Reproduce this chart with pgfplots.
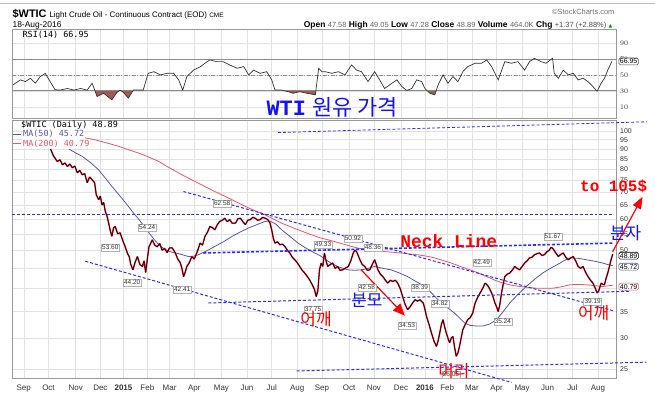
\documentclass[border=0pt]{standalone}
\usepackage{pgfplots}
\pgfplotsset{compat=1.18}
\usepackage{pgfplotstable}
\usetikzlibrary{arrows.meta}
\usepackage{fontspec}
\setmainfont{Liberation Sans}
\newfontfamily\mono{DejaVu Sans Mono}
\newfontfamily\cour{Liberation Mono}
\newfontfamily\cjk{Noto Sans CJK KR}
\newfontfamily\dejavu{DejaVu Sans}

\definecolor{anb}{RGB}{45,45,245}
\definecolor{txtblue}{RGB}{20,20,235}
\definecolor{anr}{RGB}{255,0,0}
\definecolor{ma50c}{RGB}{85,85,170}
\definecolor{ma200c}{RGB}{232,85,105}
\definecolor{pricered}{RGB}{238,20,45}
\definecolor{rsifill}{RGB}{160,92,82}
\definecolor{gridc}{RGB}{226,226,226}

% price close (x = days since 1 Sep 2014)
\pgfplotstableread{
d p
32.6 89.9
36 86.5
40.7 83.7
44 84.5
47 82.1
50 83
53 81.3
56 82.5
59 80.7
62 81.5
65 78.4
68 79.5
71 77.5
74 78
77 74
80 76.5
83 75.3
86 74
88 69
91 67
93 68.5
95 65
97 66
99 62.6
101 61
103 58.6
105 56
107 54.2
109 57
111 57.4
114 55
117 55.3
120 53
123 51.1
126 49
128 48.2
130 46
132.5 44.6
135 46.5
138 48.2
141 46
144 45.5
146 47
148 43.9
150 47.5
152 51
154 52
156 53.1
159 51.5
162 51
165 52
168 50
171 50.5
174 49.3
177 50.7
180 50.7
182 50
184 49.2
187 47.5
190 46.5
192 45
194 42.9
196 44
198 45.5
201 46.5
204 48.2
207 47.5
210 49.2
212 50.5
214 52.1
217 51.5
220 54.2
223 55.5
226 57.4
229 57
232 56.3
235 58
238 59.1
241 59.5
244 60.2
247 59
250 59.7
253 58.5
257 58.5
260 60
263 60.2
266 59
269 58
272 59.5
275 59.7
278 60.5
281 60.2
284 59.5
287 59.7
290 60.5
293 60.2
296 59.8
299 58.5
301 56.3
303 53.5
305 52.1
308 52.5
311 51.6
314 51.8
317 51.1
320 50
323 49.2
326 48
329 47.3
332 46.5
335 45.5
338 44.5
341 43.8
344 43
347 42.1
350 41
353 39.8
355 38.2
357 39.5
359 44.6
361 46.4
363 45.5
365 49.2
367 47
369 45.5
372 46
375 46.4
378 45
381 45.5
384 44.5
387 44.6
390 45
394 45.5
397 47
400 49.2
402 50
404 49.6
406 48.5
408 47.3
411 46
414 45.5
417 44.5
420 44.6
423 46
426 47.3
428 46
430 44.6
433 43.5
436 42.9
439 42
442 41.3
445 42
448 41.7
451 42
454 41.3
457 40
460 38.2
463 36.5
466 35.4
469 36
472 36.8
475 37.5
478 37.2
481 37.5
485 36.8
487 35.5
489 34
492 32.5
495 30.9
498 29.5
501 28.6
503 29.5
505 30.9
507 32.5
509 33.4
511 32
513 30.9
515 30
517 29.2
519 30
521 30.3
523 28.5
525 27
527 27.5
529 28.6
531 30
533 31.5
536 32.5
539 33.4
542 33.8
545 34.7
548 36.8
551 38
554 39
557 40
560 41.3
562 41
564 40.5
566 39.8
568 39
570 38
572 36.8
574 36
576 35
578 36.5
580 39
582 41
584 42.9
587 43.5
590 43.8
593 44.5
596 45.5
599 45
602 44.6
605 45.5
608 46.4
611 47
614 47.8
617 48
620 48.7
623 49
626 49.2
629 48.5
632 48.7
635 49.5
638 50
640 50.8
642 50.6
645 49.5
649 48.2
652 48.8
655 49.2
658 48
661 47.3
664 47.8
667 48.2
670 47
673 45.5
676 45
679 45.5
682 44
685 42.9
688 42
691 41.3
694 40
696 39
698 39.5
701 41.3
703 41
705 40.9
707 42.5
709 43.8
711 45.5
713 47.3
715 48.89
}\price

\pgfplotstableread{
d p
55 89.9
63 88
71 86.2
81 83.2
91 79.7
99 76
107 72.4
116 68.8
124 65.7
132 62.5
140 59.7
146 57.5
152 55.3
158 53.3
164 51.6
170 50.5
176 49.7
182 49.3
188 49.0
194 48.6
200 48.2
206 48.3
212 48.7
222 49.8
232 51.1
243 52.6
253 54.2
263 55.6
273 56.9
283 58.0
293 59.1
299 59.2
306 58.2
313 56.3
323 54.2
333 52.1
342 50.7
350 49.6
360 48.4
366 47.4
373 46.4
383 45.3
394 44.6
402 44.5
410 44.6
418 45.0
426 45.5
436 45.0
446 44.6
456 43.8
466 42.9
476 41.7
487 40.5
495 39.0
503 37.5
513 36.0
523 34.7
530 33.6
535 32.8
542 32.3
550 32.2
558 32.2
566 32.6
574 33.4
582 35.0
590 36.8
600 38.7
610 40.5
620 42.2
630 43.8
641 45.2
651 46.4
657 47.2
663 47.8
673 47.7
683 47.3
693 46.9
703 46.4
709 46.0
715 45.72
}\maF

\pgfplotstableread{
d p
59 97.7
70 96.4
87 94.9
100 93.3
116 91.3
128 89.5
140 87.8
152 85.8
164 83.7
174 81.3
183 79.4
192 77.5
202 75.6
212 73.8
222 72.0
232 70.3
243 68.6
253 67.0
263 65.4
273 63.9
283 62.6
293 61.4
303 59.9
313 58.5
323 57.4
333 56.3
347 54.9
360 53.7
368 53.2
377 52.6
388 51.8
398 51.1
408 50.5
418 50.0
428 49.8
438 49.6
448 49.4
458 49.2
468 48.9
478 48.7
489 48.3
499 47.8
509 47.1
519 46.4
530 45.5
542 44.6
552 43.8
562 42.9
572 42.0
582 41.3
592 40.8
602 40.5
612 40.3
622 40.1
632 40.1
642 40.1
652 40.4
663 40.9
673 41.0
683 40.9
693 40.7
703 40.5
715 40.79
}\maT

\pgfplotstableread{
d r
-13 37.5
-4 43.8
2 41.6
8 45.8
14 39.6
20 47.9
26 52
32 41.6
38 31.5
44 31
53 33
61 31
69 33
77 31
83 39.6
89 23
97 27
107 18.8
113 28
117 31
121 28
127 21
133 31
139 31
145 31
151 52
158 54
166 50
174 52
182 52
188 43.8
193 31
198 47.9
206 56
214 60
220 64.6
226 68.8
234 66.6
242 66.6
250 62.5
259 58.3
267 60.4
273 50
279 56
287 52
295 54
301 43.8
305 31
313 31
321 29
327 27
335 29
344 27
354 25
358 58.3
362 54
366 54
374 52
382 54
390 50
398 62.5
404 56
410 54
418 41.6
426 54
432 43.8
438 33
447 39.6
453 43.8
459 35.4
465 30.5
471 33
477 43.8
483 41.6
487 33
493 27
499 25
503 37.5
509 50
515 39.6
521 47.9
527 41.6
533 54
539 60.4
548 64.6
556 64.6
562 68.8
568 60.4
576 43.8
584 66.6
592 64.6
600 66.6
608 56
614 66.6
620 70.8
628 66.6
634 64.6
642 70.8
644 52
649 45.8
655 56
661 50
667 52
673 43.8
679 45.8
685 41.6
691 35.4
696 29.5
701 39.6
705 45.8
709 56
714 66.95
}\rsi

\tikzset{
 lbl/.style={draw=black!30, fill=white, inner sep=0.9bp, font=\fontsize{6.5}{7}\selectfont, text=black!80},
 rbox/.style={draw=#1, fill=white, rounded corners=1.5bp, inner sep=1bp, font=\fontsize{7}{7.5}\selectfont, text=black, line width=0.6pt},
 ktxt/.style={inner sep=0, font=\cjk\fontsize{17}{19}\selectfont},
 tl/.style={anb, line width=1pt, dash pattern=on 3pt off 2pt},
}

\begin{document}
\begin{tikzpicture}
\fill[white] (0,0) rectangle (655bp,399bp);

% ---------------- RSI panel ----------------
\begin{axis}[
 at={(12bp,281bp)}, anchor=south west, width=605bp, height=89bp, scale only axis,
 xmin=-13.82, xmax=719.8, ymin=-3.75, ymax=107.5,
 axis line style={draw=black!40},
 xtick={0,30,63,93,121,150,177,207,240,271,301,332,362,395,425,458,487,514,544,574,605,636,666,697},
 xticklabels={},
 ytick={10,30,50,70,90}, yticklabel pos=right,
 yticklabel style={font=\fontsize{7}{8}\selectfont, text=black!80},
 major tick length=0,
 grid=major, major grid style={draw=gridc, line width=0.5pt},
]
\addplot[black!45, line width=0.8pt] coordinates {(-13.82,70) (719.8,70)};
\addplot[black!45, line width=0.8pt] coordinates {(-13.82,30) (719.8,30)};
\addplot[black!45, line width=0.6pt, dash pattern=on 4pt off 1.5pt on 1pt off 1.5pt] coordinates {(-13.82,50) (719.8,50)};
\addplot[fill=rsifill, draw=none] coordinates {(86.5,30) (89,23) (97,27) (107,18.8) (113,28) (115.7,30)};
\addplot[fill=rsifill, draw=none] coordinates {(118.3,30) (121,28) (127,21) (132.4,30)};
\addplot[fill=rsifill, draw=none] coordinates {(317,30) (321,29) (327,27) (335,29) (344,27) (354,25) (354.6,30)};
\addplot[fill=rsifill, draw=none] coordinates {(490,30) (493,27) (499,25) (500.6,30)};
\addplot[black!80, line width=0.7pt] table[x=d, y=r] {\rsi};
\end{axis}

% ---------------- Price panel ----------------
\begin{axis}[
 at={(12bp,20bp)}, anchor=south west, width=605bp, height=259bp, scale only axis,
 xmin=-13.82, xmax=719.8, ymode=log, ymin=23.73, ymax=106.59,
 axis line style={draw=black!40},
 xtick={0,30,63,93,121,150,177,207,240,271,301,332,362,395,425,458,487,514,544,574,605,636,666,697},
 xticklabels={Sep,Oct,Nov,Dec,{\bfseries 2015},Feb,Mar,Apr,May,Jun,Jul,Aug,Sep,Oct,Nov,Dec,{\bfseries 2016},Feb,Mar,Apr,May,Jun,Jul,Aug},
 xticklabel style={font=\fontsize{8}{9}\selectfont, text=black!80, yshift=-2.5bp},
 ytick={25,30,35,40,45,50,55,60,65,70,75,80,85,90,95,100},
 yticklabels={25,30,35,40,45,50,55,60,65,70,75,80,85,90,95,100},
 yticklabel pos=right,
 yticklabel style={font=\fontsize{7}{8}\selectfont, text=black!80},
 major tick length=0,
 grid=major, major grid style={draw=gridc, line width=0.5pt},
 clip=false,
]
\addplot[ma200c, line width=0.8pt] table[x=d, y=p] {\maT};
\addplot[ma50c, line width=0.8pt] table[x=d, y=p] {\maF};
\addplot[pricered, line width=1.5pt, line join=bevel] table[x=d, y=p] {\price};
\addplot[black, line width=0.6pt, line join=bevel] table[x=d, y=p] {\price};

% trend lines (annotations)
\draw[anb, line width=0.8pt, dash pattern=on 3pt off 2pt] (axis cs:308.7,99.0) -- (axis cs:756.2,105.4);
\draw[anb, line width=0.8pt, dash pattern=on 3pt off 2pt] (axis cs:-13.82,61.4) -- (axis cs:715,61.4);
\draw[tl] (axis cs:193.9,70.3) -- (axis cs:717.4,35.1);
\draw[anb, line width=1.6pt, dash pattern=on 3pt off 1.8pt] (axis cs:218.1,49.2) -- (axis cs:715,52.1);
\draw[tl] (axis cs:224.2,36.8) -- (axis cs:736.8,39.4);
\draw[tl] (axis cs:74.7,46.9) -- (axis cs:592.1,23.2);
\draw[tl] (axis cs:331.4,24.8) -- (axis cs:755.8,26.1);
\draw[anr, line width=1.2pt, -{Triangle[length=12bp,width=10bp]}] (axis cs:409.4,44.65) -- (axis cs:462.7,34.2);
\draw[anr, line width=1.2pt, -{Triangle[length=12bp,width=9bp]}] (axis cs:714.9,49.57) -- (axis cs:751.3,68.2);
\end{axis}

% ---------------- texts (pixel coordinates, y downwards) ----------------
\begin{scope}[x=1bp, y=-1bp, yshift=399bp]
\draw[black!25, line width=0.8pt] (0,3.5) -- (655,3.5);
% header
\node[anchor=base west, inner sep=0] at (12,18) {\fontsize{11}{12}\selectfont\bfseries \$WTIC};
\node[anchor=base west, inner sep=0] at (49,18) {\fontsize{8}{9}\selectfont Light Crude Oil - Continuous Contract (EOD) {\fontsize{6.5}{7}\selectfont CME}};
\node[anchor=base west, inner sep=0] at (12,27.5) {\fontsize{8.5}{9}\selectfont 18-Aug-2016};
\node[anchor=base east, inner sep=0, text=black!55] at (615,15) {\fontsize{7.5}{8}\selectfont \copyright StockCharts.com};
\node[anchor=base east, inner sep=0] at (613,27.5) {\fontsize{8.5}{9}\selectfont \textbf{Open} {\color{black!60}\fontsize{7.5}{8}\selectfont 47.58} \textbf{High} {\color{black!60}\fontsize{7.5}{8}\selectfont 49.05} \textbf{Low} {\color{black!60}\fontsize{7.5}{8}\selectfont 47.28} \textbf{Close} {\color{black!60}\fontsize{7.5}{8}\selectfont 48.89} \textbf{Volume} {\color{black!60}\fontsize{7.5}{8}\selectfont 464.0K} \textbf{Chg} {\color{black!70}\fontsize{7.5}{8}\selectfont +1.37 (+2.88\%)} {\dejavu\color{green!60!black}\fontsize{5}{6}\selectfont ▲}};
% RSI label
\node[anchor=base west, inner sep=0] at (22,37.5) {\mono\fontsize{8.5}{9}\selectfont RSI(14) 66.95};
\node[rbox=black!70] at (629,61.5) {66.95};
% main legend
\node[anchor=base west, fill=white, inner sep=0.6bp] at (20,128) {\mono\fontsize{8.5}{9}\selectfont \$WTIC (Daily) 48.89};
\node[anchor=base west, fill=white, inner sep=0.6bp, text=ma50c] at (22,137) {\mono\fontsize{8.5}{9}\selectfont MA(50) 45.72};
\node[anchor=base west, fill=white, inner sep=0.6bp, text=ma200c] at (22,146.5) {\mono\fontsize{8.5}{9}\selectfont MA(200) 40.79};
\draw[ma50c, line width=1.3pt] (13,134.5) -- (20.5,134.5);
\draw[ma200c, line width=1.3pt] (13,144) -- (20.5,144);
% right side value boxes
\node[rbox=black] at (629,256) {48.89};
\node[rbox=ma50c] at (629,267) {45.72};
\node[rbox=ma200c] at (629,287) {40.79};
% price labels
\node[lbl] at (110,248) {53.60};
\node[lbl] at (147,228) {54.24};
\node[lbl] at (132,283) {44.20};
\node[lbl] at (182,290) {42.41};
\node[lbl] at (222,204) {62.58};
\node[lbl] at (323,245) {49.33};
\node[lbl] at (313,310) {37.75};
\node[lbl] at (353,239) {50.92};
\node[lbl] at (373,248) {48.36};
\node[lbl] at (367,288) {42.58};
\node[lbl] at (407,326) {34.53};
\node[lbl] at (420,288) {38.39};
\node[lbl] at (440,304) {34.82};
\node[lbl] at (451,375) {26.05};
\node[lbl] at (482,263) {42.49};
\node[lbl] at (503,322) {35.24};
\node[lbl] at (553,237) {51.67};
\node[lbl] at (593,302) {39.19};
% annotations
\node[inner sep=0, text=txtblue] at (332,107) {\fontsize{22}{24}\selectfont{\cour\bfseries WTI} {\cjk 원유 가격}};
\node[inner sep=0, text=anr] at (449,241) {\cour\bfseries\fontsize{18}{20}\selectfont Neck Line};
\node[inner sep=0, text=anr] at (614,187) {\cour\bfseries\fontsize{16}{18}\selectfont to 105\$};
\node[ktxt, text=txtblue] at (626,233) {분자};
\node[ktxt, text=txtblue] at (367,301) {분모};
\node[ktxt, text=anr] at (316,320) {어깨};
\node[ktxt, text=anr] at (594,314) {어깨};
\node[ktxt, text=anr] at (454,372) {머리};
\end{scope}
\useasboundingbox (0,0) rectangle (655bp,399bp);
\end{tikzpicture}
\end{document}
